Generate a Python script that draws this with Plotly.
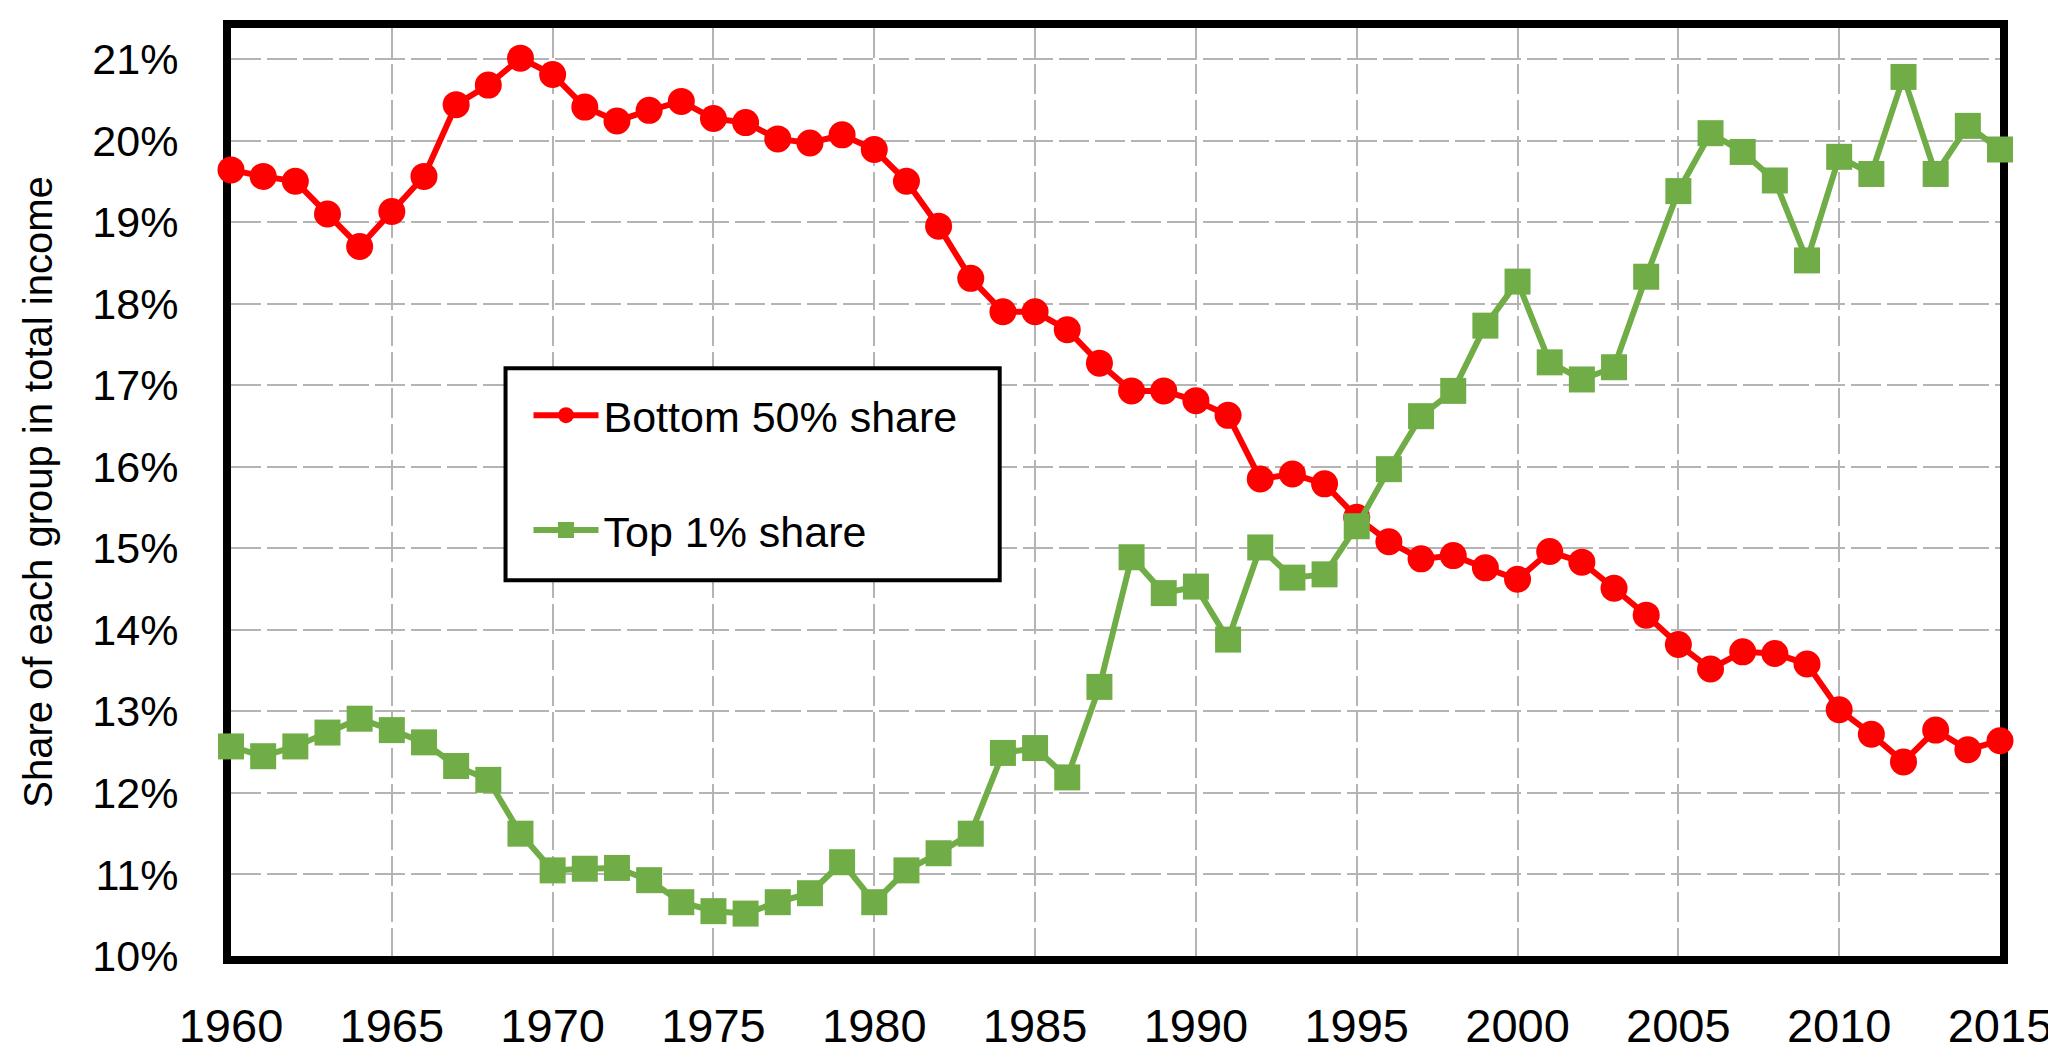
import plotly.graph_objects as go

years = list(range(1960, 2016))

bottom50 = [19.64, 19.56, 19.50, 19.10, 18.70, 19.13, 19.56, 20.44, 20.68, 21.01,
            20.81, 20.41, 20.24, 20.37, 20.48, 20.27, 20.22, 20.02, 19.97, 20.07,
            19.89, 19.50, 18.95, 18.31, 17.90, 17.90, 17.68, 17.27, 16.93, 16.93,
            16.81, 16.63, 15.85, 15.91, 15.79, 15.38, 15.08, 14.87, 14.91, 14.76,
            14.62, 14.96, 14.83, 14.51, 14.18, 13.82, 13.52, 13.73, 13.71, 13.58,
            13.02, 12.72, 12.38, 12.77, 12.53, 12.64]

top1 = [12.57, 12.45, 12.57, 12.74, 12.91, 12.77, 12.62, 12.33, 12.16, 11.50,
        11.05, 11.07, 11.08, 10.93, 10.66, 10.55, 10.52, 10.66, 10.77, 11.15,
        10.66, 11.05, 11.26, 11.50, 12.49, 12.55, 12.19, 13.30, 14.89, 14.45,
        14.53, 13.88, 15.01, 14.64, 14.68, 15.27, 15.97, 16.62, 16.93, 17.73,
        18.27, 17.28, 17.07, 17.22, 18.33, 19.38, 20.09, 19.86, 19.51, 18.53,
        19.80, 19.59, 20.78, 19.59, 20.18, 19.89]

x_ticks = list(range(1960, 2016, 5))
y_ticks = list(range(10, 22))

FONT = "Liberation Sans, Arial, sans-serif"

fig = go.Figure()
fig.add_trace(go.Scatter(
    x=years, y=bottom50, name="Bottom 50% share", mode="lines+markers",
    line=dict(color="#FF0000", width=6),
    marker=dict(symbol="circle", size=27, color="#FF0000"),
    cliponaxis=False, legendgroup="a"))
fig.add_trace(go.Scatter(
    x=years, y=top1, name="Top 1% share", mode="lines+markers",
    line=dict(color="#70AD47", width=6),
    marker=dict(symbol="square", size=26, color="#70AD47"),
    cliponaxis=False, legendgroup="b"))

L, R, T, B = 223, 61, 12, 81
W, H = 2056, 1056
pw, ph = W - L - R, H - T - B


def px_x(v):
    return (v - L) / pw


def px_y(v):
    return (H - B - v) / ph


# legend frame
fig.add_shape(type="rect", xref="paper", yref="paper",
              x0=px_x(498), x1=px_x(993), y0=px_y(585), y1=px_y(365),
              line=dict(color="black", width=4), fillcolor="white", layer="above")

fig.update_layout(
    width=W, height=H,
    margin=dict(l=L, r=R, t=T, b=B, pad=0),
    paper_bgcolor="white", plot_bgcolor="white",
    font=dict(family=FONT, color="black"),
    legend=dict(
        x=px_x(521), y=px_y(378), xanchor="left", yanchor="top",
        borderwidth=0, bgcolor="rgba(0,0,0,0)",
        font=dict(size=43, family=FONT, color="black"),
        itemwidth=65, tracegroupgap=56,
    ),
)
fig.update_xaxes(
    range=[1960, 2015], tickvals=x_ticks, ticktext=[str(v) for v in x_ticks],
    tickfont=dict(size=47, family=FONT, color="black"),
    showgrid=True, gridcolor="#b4b4b4", gridwidth=2, griddash="30px,6px",
    showline=True, linecolor="black", linewidth=8, mirror=True,
    ticks="", ticklabelstandoff=22, zeroline=False, layer="below traces",
)
fig.update_yaxes(
    range=[10, 21.38], tickvals=y_ticks, ticktext=[f"{v}%" for v in y_ticks],
    tickfont=dict(size=43, family=FONT, color="black"),
    showgrid=True, gridcolor="#b4b4b4", gridwidth=2, griddash="30px,6px",
    showline=True, linecolor="black", linewidth=8, mirror=True,
    ticks="", ticklabelstandoff=36, zeroline=False, layer="below traces",
    title=dict(text="Share of each group in total income",
               font=dict(size=40, family=FONT, color="black"), standoff=30),
)

fig.write_html("out.html")
